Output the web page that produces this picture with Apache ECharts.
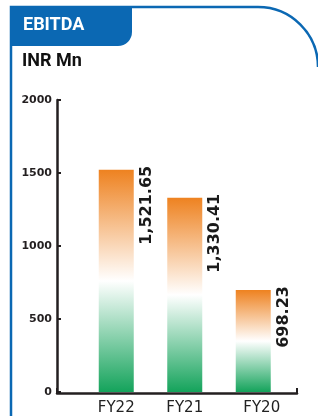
<!DOCTYPE html>
<html>
<head>
<meta charset="utf-8">
<script src="https://cdn.jsdelivr.net/npm/echarts@6/dist/echarts.min.js"></script>
<style>
  html, body { margin: 0; padding: 0; background: #fff; }
  #ebitda { width: 318px; height: 416px; }
</style>
</head>
<body>
<div id="ebitda"></div>
<script>
// data
var categories = ['FY22', 'FY21', 'FY20']
var ebitda = [1521.65, 1330.41, 698.23]
var yTicks = [0, 500, 1000, 1500, 2000]

var blue = '#0b68b3'
var ink = '#231f20'

var myChart = echarts.init(document.getElementById('ebitda'))
myChart.setOption({
  animation: false,
  grid: [
    { left: 82, right: 30.5, top: 100, bottom: 23 },
    // only carries the long bottom axis line
    { left: 57, right: 21, top: 100, bottom: 23 }
  ],
  xAxis: [{
    type: 'category',
    gridIndex: 0,
    data: categories,
    axisLine: { show: false },
    axisTick: { show: false },
    axisLabel: {
      interval: 0,
      hideOverlap: false,
      margin: 9,
      color: '#222',
      fontFamily: 'DejaVu Sans',
      fontSize: 15,
      // last label sits a little right of its bar in the original
      formatter: function (v, i) {
        return i === categories.length - 1 ? '{last|' + v + '}' : v
      },
      rich: {
        last: {
          color: '#222',
          fontFamily: 'DejaVu Sans',
          fontSize: 15,
          padding: [0, 0, 0, 17]
        }
      }
    }
  }, {
    type: 'value',
    gridIndex: 1,
    min: 0,
    max: 1,
    interval: 1,
    axisLine: { show: true, lineStyle: { color: ink, width: 2.5 } },
    axisTick: { show: true, inside: true, length: 5, lineStyle: { color: ink, width: 2 } },
    axisLabel: { show: false },
    splitLine: { show: false }
  }],
  yAxis: [{
    type: 'value',
    gridIndex: 0,
    min: yTicks[0],
    max: yTicks[yTicks.length - 1],
    interval: yTicks[1] - yTicks[0],
    offset: 25,
    axisLine: { show: true, lineStyle: { color: ink, width: 2.5 } },
    axisTick: { show: true, inside: true, length: 4, lineStyle: { color: ink, width: 2 } },
    splitLine: { show: false },
    axisLabel: {
      margin: 5,
      color: ink,
      fontFamily: 'DejaVu Sans',
      fontWeight: 'bold',
      fontSize: 11,
      formatter: function (v) { return String(v) }
    }
  }, {
    type: 'value',
    gridIndex: 1,
    show: false
  }],
  series: [{
    name: 'EBITDA',
    type: 'bar',
    xAxisIndex: 0,
    yAxisIndex: 0,
    data: ebitda,
    barWidth: 35,
    itemStyle: {
      color: new echarts.graphic.LinearGradient(0, 0, 0, 1, [
        { offset: 0, color: '#ee8220' },
        { offset: 0.5, color: '#ffffff' },
        { offset: 1, color: '#14a35b' }
      ])
    },
    // value written vertically next to each bar, reading upwards
    label: {
      show: true,
      position: [40, -4],
      rotate: 90,
      align: 'right',
      verticalAlign: 'top',
      color: '#1a1a1a',
      fontFamily: 'DejaVu Sans',
      fontWeight: 'bold',
      fontSize: 16,
      formatter: function (p) {
        return p.value.toLocaleString('en-US', { minimumFractionDigits: 2, maximumFractionDigits: 2 })
      }
    }
  }],
  graphic: [{
    type: 'polyline',
    shape: { points: [[11, 430], [11, 7], [258, 7]] },
    style: { fill: null, stroke: blue, lineWidth: 2.5 },
    silent: true
  }, {
    type: 'arc',
    shape: { cx: 258, cy: 67, r: 60, startAngle: -Math.PI / 2, endAngle: 0, clockwise: true },
    style: { fill: null, stroke: blue, lineWidth: 2.5 },
    silent: true
  }, {
    type: 'rect',
    shape: { x: 10, y: 6, width: 122, height: 40, r: [0, 0, 14, 0] },
    style: { fill: blue },
    silent: true
  }, {
    type: 'text',
    left: 23,
    top: 16,
    style: {
      text: 'EBITDA',
      fill: '#fff',
      font: 'bold 18px Roboto'
    }
  }, {
    type: 'text',
    left: 22,
    top: 52,
    style: {
      text: 'INR Mn',
      fill: '#111',
      font: 'bold 18px Roboto'
    }
  }]
})
</script>
</body>
</html>
